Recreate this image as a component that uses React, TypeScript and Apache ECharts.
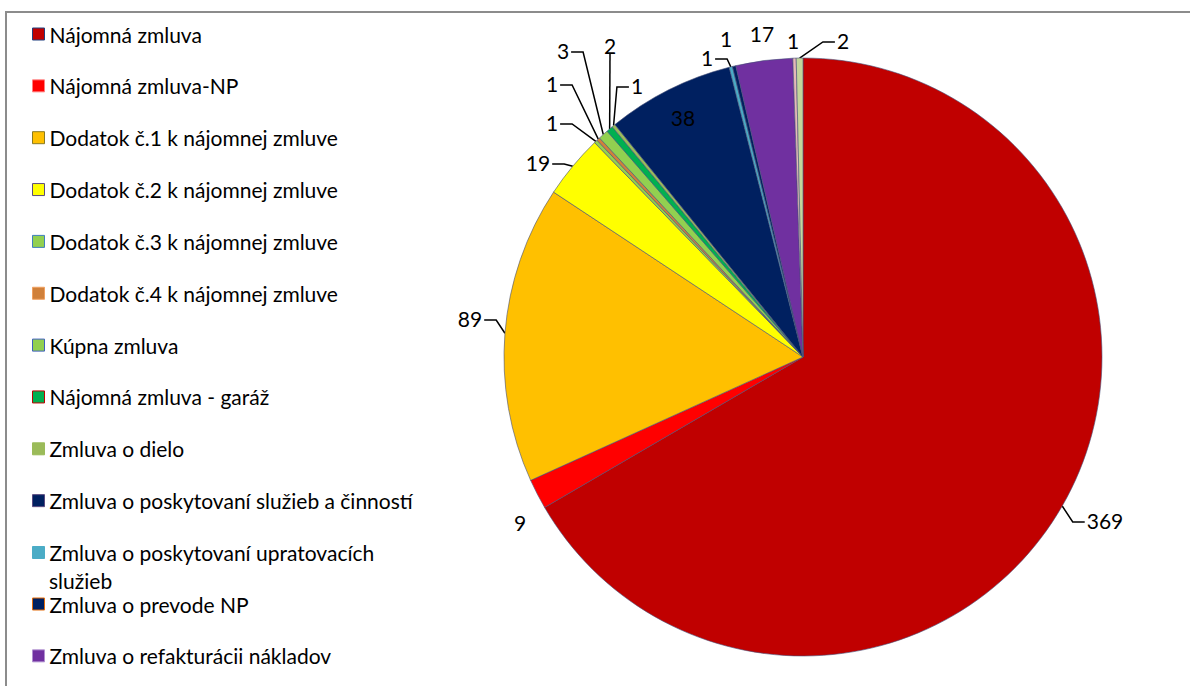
import React, { useEffect, useRef } from "react";
import * as echarts from "echarts";

const categories: string[] = [
  "Nájomná zmluva",
  "Nájomná zmluva-NP",
  "Dodatok č.1 k nájomnej zmluve",
  "Dodatok č.2 k nájomnej zmluve",
  "Dodatok č.3 k nájomnej zmluve",
  "Dodatok č.4 k nájomnej zmluve",
  "Kúpna zmluva",
  "Nájomná zmluva - garáž",
  "Zmluva o dielo",
  "Zmluva o poskytovaní služieb a činností",
  "Zmluva o poskytovaní upratovacích služieb",
  "Zmluva o prevode NP",
  "Zmluva o refakturácii nákladov",
  "Ostatné (1)",
  "Ostatné (2)",
];

const values: number[] = [369, 9, 89, 19, 1, 1, 3, 2, 1, 38, 1, 1, 17, 1, 2];

const colors: string[] = [
  "#C00000",
  "#FF0000",
  "#FFC000",
  "#FFFF00",
  "#92D050",
  "#D0803A",
  "#92D050",
  "#00B050",
  "#9BBB59",
  "#002060",
  "#4BACC6",
  "#002060",
  "#7030A0",
  "#E6B9B8",
  "#C3D69B",
];

const legendBorders: string[] = [
  "#1F3F7F",
  "#FF8080",
  "#8A7A20",
  "#5A4A80",
  "#3F7FBF",
  "#F0A060",
  "#3F5FBF",
  "#C00000",
  "#9BBB59",
  "#5A4A80",
  "#4BACC6",
  "#E46C0A",
  "#B090D0",
];

const FONT = "Lato, 'Open Sans', sans-serif";

// Label placement (layout only): center of each value label in page pixels.
const LABEL_POS: Record<number, [number, number]> = {
  0: [1105, 520],
  1: [520, 522],
  2: [470, 318],
  3: [538, 162],
  4: [552, 122],
  5: [552, 83],
  6: [563, 50],
  7: [610, 45],
  8: [637, 85],
  9: [683, 117],
  10: [707, 57],
  11: [726, 38],
  12: [762, 33],
  13: [793, 40],
  14: [843, 40],
};
const NO_LINE = new Set([1, 9, 11, 12, 13]);

export default function App() {
  const ref = useRef<HTMLDivElement>(null);

  useEffect(() => {
    if (!ref.current) return;
    const chart = echarts.init(ref.current, undefined, { renderer: "svg" });

    const data = categories.map((name, i) => {
      const item: any = {
        name,
        value: values[i],
        itemStyle: { color: colors[i] },
      };
      if (NO_LINE.has(i)) {
        item.labelLine = { show: false };
      }
      return item;
    });

    const legendItems = (from: number, to: number) =>
      categories.slice(from, to).map((name, k) => ({
        name,
        itemStyle: {
          color: colors[from + k],
          borderColor: legendBorders[from + k],
          borderWidth: 1,
        },
      }));

    const legendCommon = {
      orient: "vertical",
      left: 32,
      padding: 0,
      itemWidth: 12,
      itemHeight: 12,
      itemGap: 29.85,
      icon: "rect",
      selectedMode: false,
      textStyle: {
        fontFamily: FONT,
        fontSize: 21,
        lineHeight: 22,
        color: "#000",
        padding: [0, 0, 0, 0],
      },
    };

    chart.setOption({
      animation: false,
      backgroundColor: "#fff",
      legend: [
        {
          ...legendCommon,
          top: 23,
          data: legendItems(0, 11),
          formatter: (name: string) =>
            name === "Zmluva o poskytovaní upratovacích služieb"
              ? "Zmluva o poskytovaní upratovacích"
              : name,
        },
        {
          ...legendCommon,
          top: 593,
          data: legendItems(11, 13),
        },
      ],
      graphic: [
        {
          type: "rect",
          shape: { x: 6, y: 12, width: 2000, height: 2000 },
          style: { fill: "none", stroke: "#8C8C8C", lineWidth: 2 },
          silent: true,
        },
        {
          type: "text",
          left: 49,
          top: 570,
          style: {
            text: "služieb",
            font: `21px ${FONT}`,
            fill: "#000",
          },
          silent: true,
        },
      ],
      series: [
        {
          type: "pie",
          center: [803, 357],
          radius: 299,
          startAngle: 90,
          clockwise: true,
          avoidLabelOverlap: false,
          itemStyle: {
            borderColor: "rgba(70,80,120,0.75)",
            borderWidth: 0.8,
          },
          label: {
            show: true,
            position: "outside",
            formatter: "{c}",
            fontFamily: FONT,
            fontSize: 21,
            color: "#000",
          },
          labelLine: {
            show: true,
            length: 10,
            length2: 10,
            lineStyle: { color: "#000", width: 1.5 },
          },
          labelLayout: (params: any) => {
            const i = params.dataIndex;
            const p = LABEL_POS[i];
            if (!p) return {};
            const res: any = { x: p[0], y: p[1], align: "center", verticalAlign: "middle" };
            const pts = params.labelLinePoints;
            if (pts && pts.length && !NO_LINE.has(i)) {
              const w = params.labelRect.width;
              const h = params.labelRect.height;
              const a = pts[0];
              if (Math.abs(p[0] - a[0]) < 20) {
                const by = p[1] + h / 2 - 2;
                res.labelLinePoints = [
                  [a[0], a[1]],
                  [p[0], by],
                  [p[0], by],
                ];
              } else {
                const side = p[0] < a[0] ? 1 : -1;
                const ex = p[0] + side * (w / 2 + 2);
                const ly = p[1] + 2;
                res.labelLinePoints = [
                  [a[0], a[1]],
                  [ex + side * 12, ly],
                  [ex, ly],
                ];
              }
            }
            return res;
          },
          emphasis: { disabled: true },
          data,
        },
      ],
    });

    return () => chart.dispose();
  }, []);

  return (
    <div
      ref={ref}
      style={{
        position: "fixed",
        left: 0,
        top: 0,
        width: 1190,
        height: 686,
        background: "#fff",
      }}
    />
  );
}
